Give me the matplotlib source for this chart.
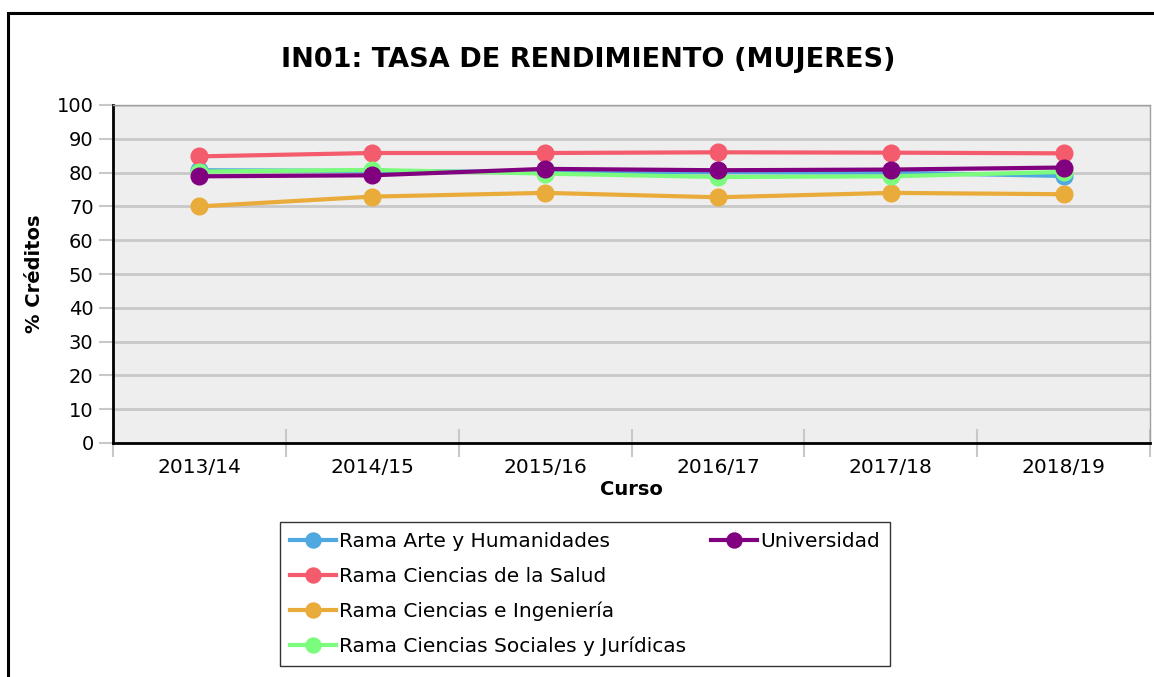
import matplotlib
matplotlib.use("Agg")
import matplotlib.pyplot as plt
from matplotlib.lines import Line2D
from matplotlib.patches import Rectangle

cursos = ["2013/14", "2014/15", "2015/16", "2016/17", "2017/18", "2018/19"]
arte = [80.7, 80.5, 80.1, 80.2, 80.0, 79.0]
salud = [84.8, 85.8, 85.8, 86.0, 85.9, 85.7]
ingenieria = [70.0, 72.9, 74.0, 72.7, 74.0, 73.6]
sociales = [80.3, 80.8, 79.7, 78.7, 78.9, 80.2]
universidad = [78.9, 79.2, 81.1, 80.7, 80.9, 81.5]

series = [
    ("Rama Arte y Humanidades", arte, "#4FA8DF"),
    ("Rama Ciencias de la Salud", salud, "#F45B6C"),
    ("Rama Ciencias e Ingeniería", ingenieria, "#E9AB3A"),
    ("Rama Ciencias Sociales y Jurídicas", sociales, "#7CFC7C"),
    ("Universidad", universidad, "#800080"),
]

plt.rcParams['font.family'] = ['DejaVu Sans']
W, H = 1154, 677
fig = plt.figure(figsize=(W/100, H/100), dpi=100)
fig.patches.append(Rectangle((8/W, -0.1), 1.2, 1 - 13/H + 0.1, transform=fig.transFigure,
                             fill=False, edgecolor='black', linewidth=2.2))

ax = fig.add_axes([113/W, 1 - 443/H, (1150 - 113)/W, (443 - 105)/H])
ax.set_facecolor('#EDEEED')
x = list(range(len(cursos)))
for name, vals, col in series:
    ax.plot(x, vals, color=col, linewidth=3, marker='o', markersize=12, label=name, zorder=3)

ax.set_xlim(-0.5, len(cursos) - 0.5)
ax.set_ylim(0, 100)
ax.set_yticks(range(0, 101, 10))
ax.yaxis.grid(True, color='#C8C8C8', linewidth=2)
ax.set_axisbelow(True)
ax.set_xticks(x)
ax.set_xticklabels(cursos)
ax.set_xticks([i - 0.5 for i in range(len(cursos) + 1)], minor=True)
ax.tick_params(axis='x', which='major', length=0, labelsize=14.5, pad=11)
ax.tick_params(axis='x', which='minor', length=20, width=1.5, color='#C8C8C8', direction='inout')
ax.tick_params(axis='y', length=10, width=1.5, color='#C8C8C8', labelsize=14, pad=4)
for s in ['left', 'bottom']:
    ax.spines[s].set_color('black')
    ax.spines[s].set_linewidth(2)
for s in ['top', 'right']:
    ax.spines[s].set_color('#A0A0A0')
    ax.spines[s].set_linewidth(1)

ax.set_xlabel("Curso", fontsize=14, fontweight='bold', labelpad=2)
ax.set_ylabel("% Créditos", fontsize=14, fontweight='bold', labelpad=9)
fig.text(588/W, 1 - 60/H, "IN01: TASA DE RENDIMIENTO (MUJERES)", fontsize=19.5,
         fontweight='bold', ha='center', va='center')

handles, labels = ax.get_legend_handles_labels()
blank = Line2D([], [], linestyle='none', marker=None)
order_h = handles[:4] + [handles[4], blank, blank, blank]
order_l = labels[:4] + [labels[4], '', '', '']
leg = fig.legend(order_h, order_l, ncol=2, loc='upper left',
                 bbox_to_anchor=(280/W, 1 - 522/H), borderaxespad=0, fontsize=14.5, frameon=True,
                 fancybox=False, edgecolor='black', handlelength=2.3, handletextpad=0.15,
                 labelspacing=0.78, columnspacing=1.2, borderpad=0.5, markerscale=0.9)
leg.get_frame().set_linewidth(1)

fig.savefig("out.png", dpi=100)
